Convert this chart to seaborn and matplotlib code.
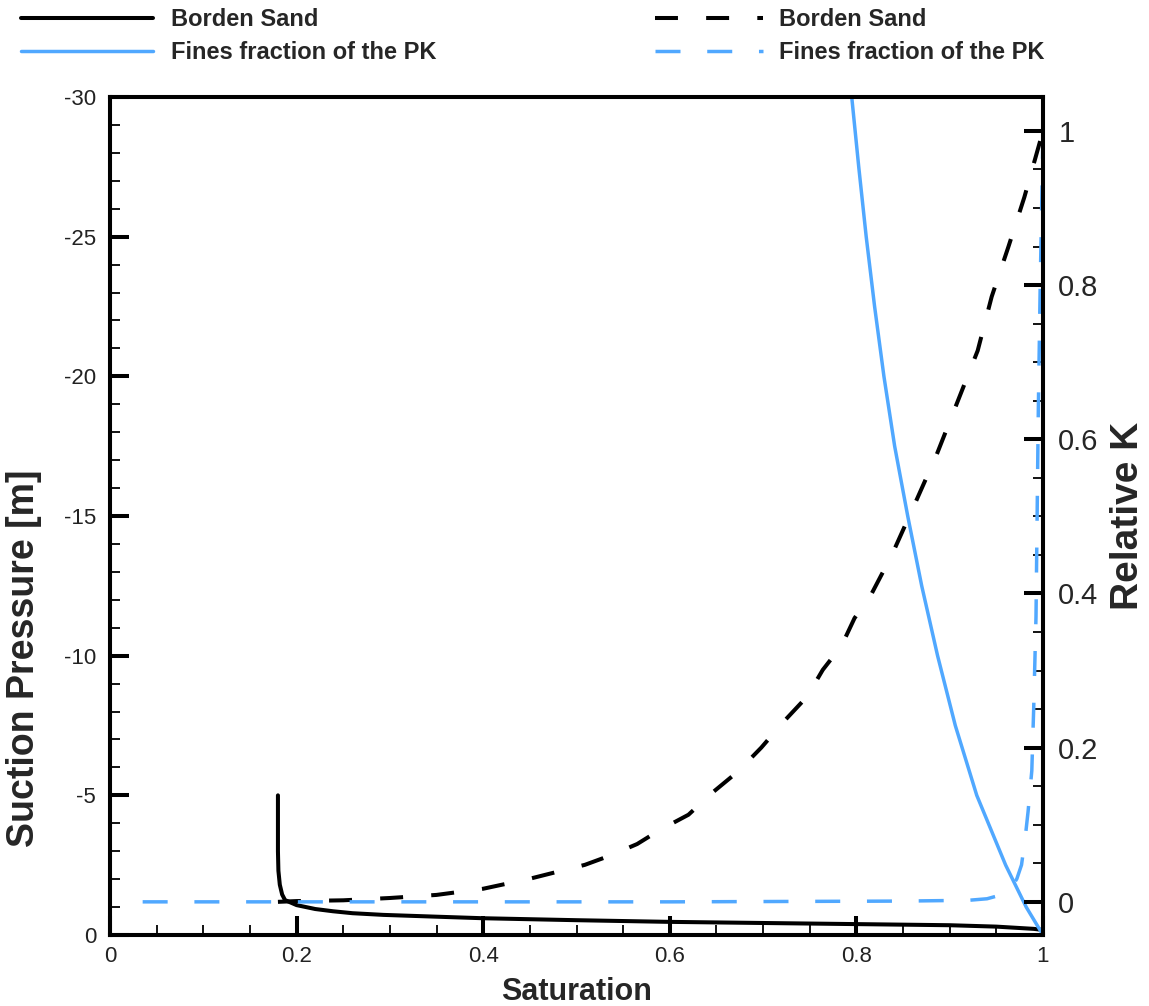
import matplotlib
matplotlib.use("Agg")
import matplotlib.pyplot as plt
import seaborn as sns
import pandas as pd
from matplotlib.ticker import MultipleLocator, FixedLocator

# ---------------- data ----------------
# Borden Sand - suction pressure curve (left axis)
borden_sat = [0.18, 0.18, 0.1805, 0.182, 0.1845, 0.1876, 0.2, 0.22, 0.239, 0.26, 0.293,
              0.346, 0.4, 0.5, 0.6, 0.7, 0.8, 0.9, 0.95, 0.99, 1.0]
borden_psi = [-5.0, -3.0, -2.3, -1.8, -1.45, -1.25, -1.07, -0.93, -0.85, -0.78, -0.72,
              -0.66, -0.6, -0.53, -0.47, -0.43, -0.39, -0.35, -0.3, -0.22, -0.18]

# Fines fraction of the PK - suction pressure curve (left axis)
fines_sat = [0.795, 0.8025, 0.8105, 0.8195, 0.8295, 0.841, 0.855, 0.870, 0.887,
             0.906, 0.929, 0.960, 0.982, 1.0]
fines_psi = [-30.0, -27.5, -25.0, -22.5, -20.0, -17.5, -15.0, -12.5, -10.0,
             -7.5, -5.0, -2.5, -1.0, 0.0]

# Borden Sand - relative K (right axis)
borden_k_sat = [0.18, 0.2, 0.25, 0.3, 0.35, 0.4, 0.45, 0.509, 0.536, 0.565, 0.589,
                0.62, 0.645, 0.673, 0.698, 0.723, 0.747, 0.764, 0.784, 0.798, 0.816,
                0.838, 0.864, 0.886, 0.93, 0.945, 0.963, 0.98, 1.0]
borden_k = [0.0, 0.001, 0.002, 0.005, 0.009, 0.017, 0.03, 0.048, 0.060, 0.075, 0.093,
            0.113, 0.141, 0.169, 0.200, 0.235, 0.266, 0.301, 0.332, 0.368, 0.399,
            0.45, 0.52, 0.58, 0.715, 0.785, 0.85, 0.914, 1.0]

# Fines fraction of the PK - relative K (right axis)
fines_k_sat = [0.035, 0.3, 0.6, 0.85, 0.92, 0.94, 0.955, 0.965, 0.972, 0.977, 0.981,
               0.984, 0.988, 0.990, 0.9925, 0.9937, 0.995, 0.997, 0.999, 1.0]
fines_k = [0.0, 0.0, 0.0, 0.001, 0.002, 0.004, 0.009, 0.016, 0.03, 0.048, 0.084,
           0.117, 0.17, 0.25, 0.37, 0.50, 0.64, 0.80, 0.93, 1.0]

x_ticks = [0, 0.2, 0.4, 0.6, 0.8, 1.0]
x_tick_labels = ["0", "0.2", "0.4", "0.6", "0.8", "1"]
left_ticks = [0, -5, -10, -15, -20, -25, -30]
left_tick_labels = ["0", "-5", "-10", "-15", "-20", "-25", "-30"]
right_ticks = [0, 0.2, 0.4, 0.6, 0.8, 1.0]
right_tick_labels = ["0", "0.2", "0.4", "0.6", "0.8", "1"]

legend_labels = ["Borden Sand", "Fines fraction of the PK",
                 "Borden Sand", "Fines fraction of the PK"]

# ---------------- style ----------------
sns.set_theme(style="white")
plt.rcParams["font.family"] = ["Liberation Sans", "DejaVu Sans"]
plt.rcParams["axes.unicode_minus"] = False

BLUE = "#50A8FF"
BLACK = "#000000"

fig = plt.figure(figsize=(11.49, 10.06), dpi=100)
ax = fig.add_axes([110 / 1149, 1 - 935 / 1006, (1043 - 110) / 1149, (935 - 97) / 1006])
ax2 = ax.twinx()

df_b = pd.DataFrame({"S": borden_sat, "P": borden_psi})
df_f = pd.DataFrame({"S": fines_sat, "P": fines_psi})
df_bk = pd.DataFrame({"S": borden_k_sat, "K": borden_k})
df_fk = pd.DataFrame({"S": fines_k_sat, "K": fines_k})

sns.lineplot(data=df_b, x="S", y="P", ax=ax, sort=False, estimator=None,
             color=BLACK, lw=2.9, label=legend_labels[0])
sns.lineplot(data=df_f, x="S", y="P", ax=ax, sort=False, estimator=None,
             color=BLUE, lw=2.5, label=legend_labels[1])
sns.lineplot(data=df_bk, x="S", y="K", ax=ax2, sort=False, estimator=None,
             color=BLACK, lw=2.9, label=legend_labels[2])
sns.lineplot(data=df_fk, x="S", y="K", ax=ax2, sort=False, estimator=None,
             color=BLUE, lw=2.5, label=legend_labels[3])

ax2.lines[0].set_dashes((5.7, 7.0))
ax2.lines[1].set_dashes((7.2, 7.7))

# limits
ax.set_xlim(0, 1)
ax.set_ylim(0, -30)
ax2.set_ylim(-0.043, 1.044)

# ticks
ax.xaxis.set_major_locator(FixedLocator(x_ticks))
ax.set_xticklabels(x_tick_labels)
ax.xaxis.set_minor_locator(MultipleLocator(0.05))
ax.yaxis.set_major_locator(FixedLocator(left_ticks))
ax.set_yticklabels(left_tick_labels)
ax.yaxis.set_minor_locator(MultipleLocator(1))
ax2.yaxis.set_major_locator(FixedLocator(right_ticks))
ax2.set_yticklabels(right_tick_labels)
ax2.yaxis.set_minor_locator(MultipleLocator(0.05))

ax.tick_params(axis="both", which="major", direction="in", length=14, width=2.9,
               color=BLACK, labelsize=16, top=False, right=False, left=True, bottom=True)
ax.tick_params(axis="both", which="minor", direction="in", length=7.5, width=1.3,
               color=BLACK, top=False, right=False, left=True, bottom=True)
ax.tick_params(axis="x", which="major", pad=8)
ax.tick_params(axis="y", which="major", pad=10)
ax2.tick_params(axis="y", which="major", direction="in", length=14, width=2.9,
                color=BLACK, labelsize=21, pad=11, right=True, left=False)
ax2.tick_params(axis="y", which="minor", direction="in", length=7.5, width=1.3,
                color=BLACK, right=True, left=False)

for lab in ax.get_xticklabels() + ax.get_yticklabels():
    lab.set_color("#222222")

for a in (ax, ax2):
    for sp in a.spines.values():
        sp.set_visible(True)
        sp.set_color(BLACK)
        sp.set_linewidth(2.9)

ax.set_xlabel("Saturation", fontsize=22, fontweight="bold", labelpad=7)
ax.set_ylabel("Suction Pressure [m]", fontsize=27, fontweight="bold")
ax.yaxis.set_label_coords(-0.073, 0.33)
ax2.set_ylabel("Relative K", fontsize=28, fontweight="bold", labelpad=8)

# legends (solid curves on the left, dashed curves on the right)
h1, l1 = ax.get_legend_handles_labels()
h2, l2 = ax2.get_legend_handles_labels()
ax.get_legend().remove()
ax2.get_legend().remove()
leg1 = fig.legend(h1, l1, loc="upper left",
                  bbox_to_anchor=(4 / 1149, 1.008), frameon=False,
                  prop={"weight": "bold", "size": 17}, handlelength=5.6,
                  handletextpad=0.76, labelspacing=0.42, borderpad=0.2)
leg2 = fig.legend(h2, l2, loc="upper left",
                  bbox_to_anchor=(638 / 1149, 1.008), frameon=False,
                  prop={"weight": "bold", "size": 17}, handlelength=4.6,
                  handletextpad=0.68, labelspacing=0.42, borderpad=0.2)

fig.savefig("out.png", dpi=100)
